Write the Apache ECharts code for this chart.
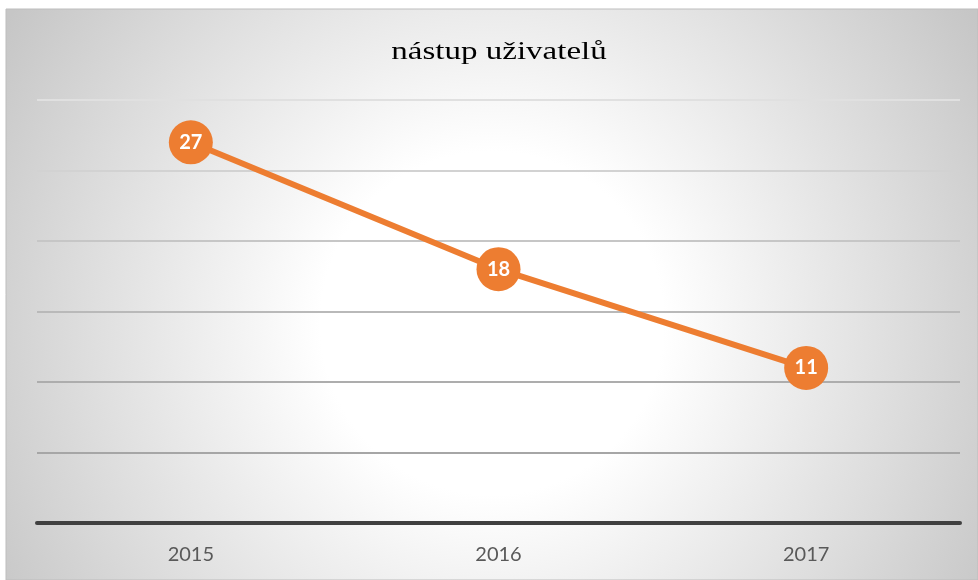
<!DOCTYPE html>
<html>
<head>
<meta charset="utf-8">
<script src="https://cdn.jsdelivr.net/npm/echarts@6/dist/echarts.min.js"></script>
<style>
  html, body { margin: 0; padding: 0; background: #fff; }
  #chart { width: 978px; height: 580px; }
</style>
</head>
<body>
<div id="chart"></div>
<script>
var chartTitle = 'nástup uživatelů';
var years = ['2015', '2016', '2017'];
var users = [27, 18, 11];
// gridline shades from bottom (0) to top (30)
var gridShades = ['#9a9a9a', '#a6a6a6', '#adadad', '#b9b9b9', '#c6c6c6', '#d2d2d2', '#e0e0e0'];

var myChart = echarts.init(document.getElementById('chart'));
myChart.setOption({
    animation: false,
    backgroundColor: '#ffffff',
    graphic: [{
        type: 'rect',
        z: -10,
        shape: { x: 6, y: 9, width: 972, height: 571 },
        style: {
            fill: new echarts.graphic.RadialGradient(0.5, 0.55, 1.0, [
                { offset: 0, color: '#ffffff' },
                { offset: 0.3, color: '#ffffff' },
                { offset: 1, color: '#c6c6c6' }
            ]),
            stroke: '#bdbdbd',
            lineWidth: 1
        }
    }, {
        type: 'text',
        x: 499,
        y: 39,
        scaleX: 1.27,
        style: {
            text: chartTitle,
            font: 'normal 26px "Liberation Serif"',
            fill: '#000000',
            textAlign: 'center',
            textVerticalAlign: 'top'
        }
    }],
    grid: { left: 37, right: 18, top: 100, bottom: 57 },
    xAxis: {
        type: 'category',
        data: years,
        axisLine: { lineStyle: { color: '#404040', width: 4 } },
        axisTick: { show: false },
        axisLabel: {
            margin: 22,
            fontFamily: 'Lato',
            fontSize: 20,
            color: '#595959'
        }
    },
    yAxis: {
        type: 'value',
        min: 0,
        max: 30,
        interval: 5,
        axisLabel: { show: false },
        axisLine: { show: false },
        axisTick: { show: false },
        splitLine: { lineStyle: { color: gridShades, width: 2 } }
    },
    series: [{
        type: 'line',
        data: users,
        symbol: 'circle',
        symbolSize: 44,
        lineStyle: { color: '#ED7D31', width: 6 },
        itemStyle: { color: '#ED7D31' },
        label: {
            show: true,
            position: 'inside',
            color: '#ffffff',
            fontFamily: 'Lato',
            fontWeight: 'bold',
            fontSize: 20
        }
    }]
});
</script>
</body>
</html>
